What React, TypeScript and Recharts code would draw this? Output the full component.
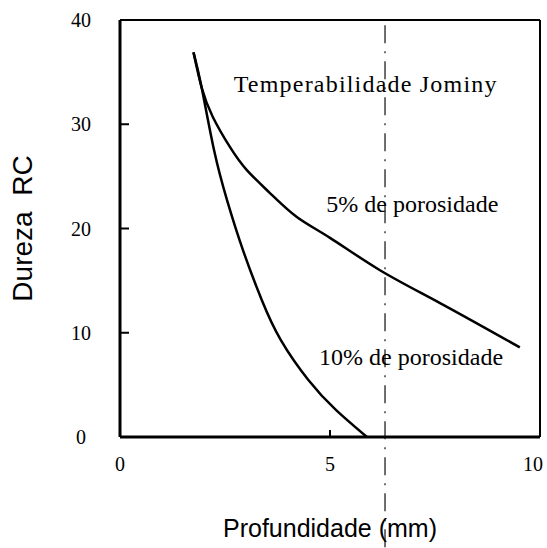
import React from 'react';
import {
  LineChart,
  Line,
  XAxis,
  YAxis,
  ReferenceLine,
  ReferenceDot,
} from 'recharts';

// 5% porosity curve (depth mm / hardness RC)
const depth5 = [1.75, 1.945, 2.21, 2.62, 3.02, 3.57, 4.21, 5.0, 6.19, 7.62, 9.52];
const hard5 = [36.9, 33.5, 30.7, 27.8, 25.6, 23.4, 21.1, 19.1, 16.0, 12.85, 8.6];

// 10% porosity curve
const depth10 = [1.75, 1.945, 2.24, 2.55, 2.93, 3.38, 3.83, 4.48, 5.14, 5.88];
const hard10 = [36.9, 33.5, 27.5, 22.7, 17.9, 13.1, 9.3, 5.5, 2.6, 0];

const xTicks = [0, 5, 10];
const yTicks = [0, 10, 20, 30, 40];
const cutDepth = 6.31;

const curve5 = depth5.map((x, i) => ({ x, y: hard5[i] }));
const curve10 = depth10.map((x, i) => ({ x, y: hard10[i] }));

const serif = '"Liberation Serif", "Times New Roman", serif';
const sans = '"Liberation Sans", Arial, sans-serif';

const NumTick = (props: any) => {
  const { x, y, payload } = props;
  // keep the last bottom label inside the svg edge
  const cx = Math.min(x, 533);
  return (
    <text
      x={cx}
      y={y}
      textAnchor="middle"
      dominantBaseline="central"
      fontFamily={serif}
      fontSize={20}
      fill="#000"
    >
      {payload.value}
    </text>
  );
};

const noLabel = () => '';

const noteStyle = { fontFamily: serif, fontSize: 24, fill: '#000' };

export default function App() {
  return (
    <div style={{ position: 'absolute', left: 0, top: 0, background: '#fff' }}>
      <LineChart
        width={547}
        height={548}
        margin={{ top: 19, right: 6, bottom: 81, left: 20 }}
      >
        <XAxis
          xAxisId="b"
          type="number"
          dataKey="x"
          domain={[0, 10]}
          ticks={xTicks}
          height={30}
          axisLine={{ stroke: '#000', strokeWidth: 3 }}
          tickLine={{ stroke: '#000', strokeWidth: 2 }}
          tickSize={-7}
          tickMargin={34}
          tick={<NumTick />}
          label={{
            value: 'Profundidade (mm)',
            position: 'bottom',
            offset: 52,
            style: { fontFamily: sans, fontSize: 25, fill: '#000' },
          }}
        />
        <XAxis
          xAxisId="t"
          orientation="top"
          type="number"
          dataKey="x"
          domain={[0, 10]}
          ticks={[5]}
          height={1}
          axisLine={{ stroke: '#000', strokeWidth: 2 }}
          tickLine={{ stroke: '#000', strokeWidth: 2 }}
          tickSize={-7}
          tickFormatter={noLabel}
        />
        <YAxis
          yAxisId="l"
          type="number"
          domain={[0, 40]}
          ticks={yTicks}
          width={100}
          axisLine={{ stroke: '#000', strokeWidth: 3 }}
          tickLine={{ stroke: '#000', strokeWidth: 2 }}
          tickSize={-9}
          tickMargin={48}
          tick={<NumTick />}
          label={{
            value: 'Dureza\u00A0\u00A0RC',
            angle: -90,
            position: 'insideLeft',
            offset: 2,
            style: { fontFamily: sans, fontSize: 28, fill: '#000', textAnchor: 'middle' },
          }}
        />
        <YAxis
          yAxisId="r"
          orientation="right"
          type="number"
          domain={[0, 40]}
          ticks={[10, 20, 30]}
          width={1}
          axisLine={{ stroke: '#000', strokeWidth: 2 }}
          tickLine={{ stroke: '#000', strokeWidth: 2 }}
          tickSize={-8}
          tickFormatter={noLabel}
        />

        <ReferenceLine
          xAxisId="b"
          yAxisId="l"
          segment={[
            { x: cutDepth, y: 39.5 },
            { x: cutDepth, y: -10.7 },
          ]}
          ifOverflow="visible"
          stroke="#222"
          strokeWidth={1.3}
          strokeDasharray="18 8 2 8"
        />

        <Line
          xAxisId="b"
          yAxisId="l"
          data={curve5}
          dataKey="y"
          type="natural"
          stroke="#000"
          strokeWidth={2.5}
          dot={false}
          isAnimationActive={false}
        />
        <Line
          xAxisId="b"
          yAxisId="l"
          data={curve10}
          dataKey="y"
          type="natural"
          stroke="#000"
          strokeWidth={2.5}
          dot={false}
          isAnimationActive={false}
        />

        <ReferenceDot
          xAxisId="b"
          yAxisId="l"
          x={5.85}
          y={33.9}
          r={0}
          label={{
            value: 'Temperabilidade Jominy',
            position: 'center',
            style: { ...noteStyle, letterSpacing: 1.2 },
          }}
        />
        <ReferenceDot
          xAxisId="b"
          yAxisId="l"
          x={6.96}
          y={22.4}
          r={0}
          label={{ value: '5% de porosidade', position: 'center', style: noteStyle }}
        />
        <ReferenceDot
          xAxisId="b"
          yAxisId="l"
          x={6.93}
          y={7.77}
          r={0}
          label={{ value: '10% de porosidade', position: 'center', style: noteStyle }}
        />
      </LineChart>
    </div>
  );
}
